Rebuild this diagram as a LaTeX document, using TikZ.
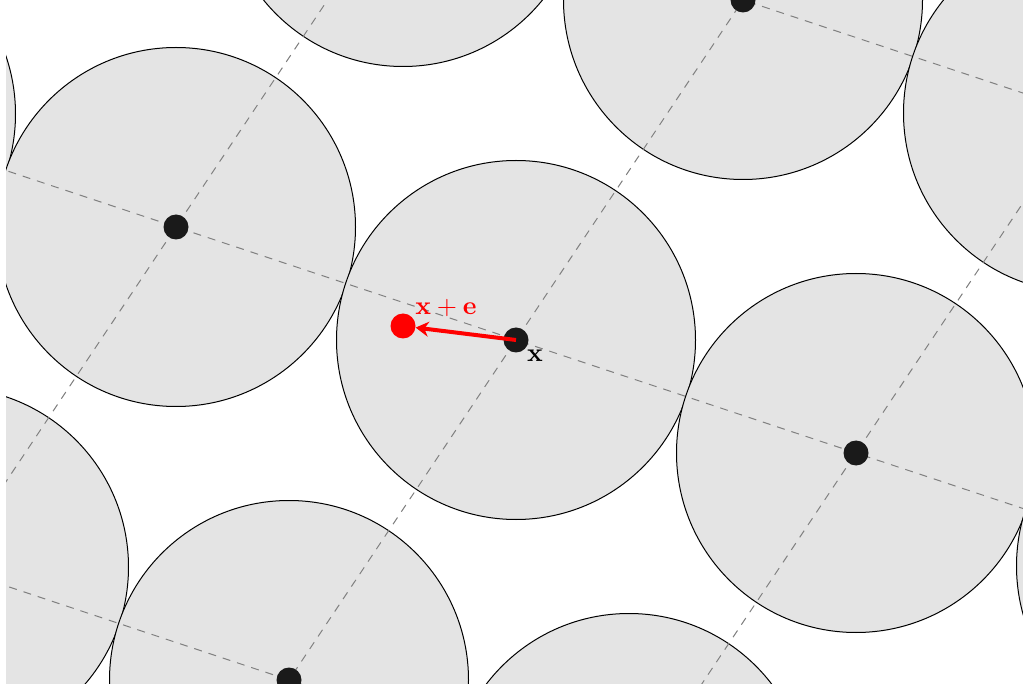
\documentclass[tikz,border=0pt]{standalone}
\usetikzlibrary{arrows.meta}
\definecolor{discgray}{RGB}{228,228,228}
\definecolor{dotblack}{RGB}{26,26,26}
\begin{document}
\begin{tikzpicture}[x=1pt,y=-1pt,
  disc/.style={circle,draw=black,line width=1pt,fill=discgray,minimum size=359pt,inner sep=0pt},
  ptdot/.style={circle,fill=dotblack,minimum size=25pt,inner sep=0pt},
  reddot/.style={circle,fill=red,minimum size=25pt,inner sep=0pt},
  latline/.style={draw=black!50,line width=1pt,dash pattern=on 8pt off 7pt},
  errarrow/.style={draw=red,line width=4pt,-{Stealth[length=13pt,width=15pt]}},
  lbl/.style={scale=2.6,inner sep=0pt}]
\useasboundingbox (0,0) rectangle (1023,684);
\clip (6,0) rectangle (1030,690);
\foreach \i in {-3,...,3}{
  \foreach \j in {-3,...,3}{
    \coordinate (c\i-\j) at ({516+340*\i+227*\j},{340+113*\i-340*\j});
  }
}
\foreach \i in {-3,...,3}{
  \foreach \j in {-3,...,3}{
    \node[disc] (d\i-\j) at (c\i-\j) {};
  }
}
\foreach \k in {-3,...,3}{
  \draw[latline] (c\k--3) -- (c\k-3);
  \draw[latline] (c-3-\k) -- (c3-\k);
}
\foreach \i in {-3,...,3}{
  \foreach \j in {-3,...,3}{
    \node[ptdot] (p\i-\j) at (c\i-\j) {};
  }
}
\node[reddot] (xe) at (403,326) {};
\draw[errarrow] (p0-0.center) -- (xe);
\node[lbl,text=red] (xelbl) at (446,308) {$\mathbf{x+e}$};
\node[lbl] (xlbl) at (535,356) {$\mathbf{x}$};
\end{tikzpicture}
\end{document}
